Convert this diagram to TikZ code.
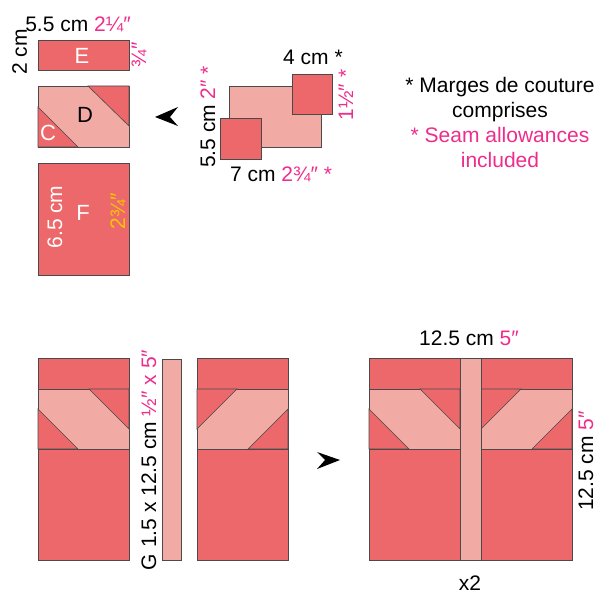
\documentclass[tikz,border=0pt]{standalone}
\usepackage{fontspec}
\setmainfont{Liberation Sans}
\definecolor{coral}{HTML}{EC686A}
\definecolor{blush}{HTML}{F2AAA5}
\definecolor{inch}{HTML}{EE2C8C}
\definecolor{gold}{HTML}{F7C600}
\definecolor{seam}{HTML}{4A4A4A}
\tikzset{
  dark/.style={fill=coral, draw=seam, line width=0.6pt},
  light/.style={fill=blush, draw=seam, line width=0.6pt},
  lbl/.style={inner sep=0pt, anchor=base, font=\fontsize{21}{25}\selectfont},
  vlbl/.style={lbl, rotate=90},
  letter/.style={inner sep=0pt, font=\fontsize{22}{26}\selectfont},
}
\begin{document}
\begin{tikzpicture}[x=1pt, y=-1pt]
  \useasboundingbox (0,0) rectangle (599,593);

  % piece E
  \draw[dark] (38,40) rectangle (129,70);
  \node[letter, text=white] (nE) at (82,56) {E};
  \node[lbl] (cutE) at (78,32) {5.5 cm \textcolor{inch}{2¼″}};
  \node[vlbl] (hE) at (27,52) {2 cm};
  \node[vlbl, text=inch] (hEin) at (146,55) {¾″};

  % pieces C and D
  \draw[light] (38,86) rectangle (129,147);
  \draw[dark] (88,86) -- (129,86) -- (129,126) -- cycle;% upper corner
  \draw[dark] (38,107) -- (78,147) -- (38,147) -- cycle;% C
  \node[letter] (nD) at (85,115) {D};
  \node[letter, text=white] (nC) at (48,133) {C};

  % piece F
  \draw[dark] (38,163) rectangle (129,275);
  \node[letter, text=white] (nF) at (83,213) {F};
  \node[vlbl, text=white] (hF) at (62,217) {6.5 cm};
  \node[vlbl, text=gold] (hFin) at (125,211) {2¾″};

  % arrow to the left
  \fill (155,117) -- (178,107) -- (170,117) -- (178,126) -- cycle;

  % background rectangle and the two squares
  \draw[light] (229,86) rectangle (321,147);
  \draw[dark] (220,118) rectangle (261,159);
  \draw[dark] (292,74) rectangle (332,114);
  \node[lbl] (sqW) at (313,65) {4 cm *};
  \node[vlbl, text=inch] (sqH) at (353,95) {1½″ *};
  \node[vlbl] (bgH) at (215,117) {5.5 cm \textcolor{inch}{2″ *}};
  \node[lbl] (bgW) at (281,182) {7 cm \textcolor{inch}{2¾″ *}};

  % note
  \node[lbl] (note1) at (500,93) {* Marges de couture};
  \node[lbl] (note2) at (500,118) {comprises};
  \node[lbl, text=inch] (note3) at (500,143) {* Seam allowances};
  \node[lbl, text=inch] (note4) at (500,168) {included};

  % half blocks, plain and mirrored
  \foreach \x/\s in {38/1, 288/-1, 369/1, 572/-1} {
    \begin{scope}[shift={(\x,358)}, xscale=\s]
      \draw[dark] (0,0) rectangle (91,31);% E
      \draw[light] (0,31) rectangle (91,91);% D
      \draw[dark] (51,31) -- (91,31) -- (91,71) -- cycle;
      \draw[dark] (0,51) -- (40,91) -- (0,91) -- cycle;% C
      \draw[dark] (0,91) rectangle (91,202);% F
    \end{scope}
  }

  % strip G
  \draw[light] (162,359) rectangle (181,560);
  \node[vlbl] (stripG) at (156,460) {G 1.5 x 12.5 cm \textcolor{inch}{½″ x 5″}};

  % arrow to the right
  \fill (340,460) -- (317,452) -- (325,460) -- (317,469) -- cycle;

  % finished block
  \draw[light] (460,358) rectangle (481,560);
  \node[lbl] (blkW) at (469,345) {12.5 cm \textcolor{inch}{5″}};
  \node[vlbl] (blkH) at (593,461) {12.5 cm \textcolor{inch}{5″}};
  \node[lbl] (times) at (470,590) {x2};
\end{tikzpicture}
\end{document}
